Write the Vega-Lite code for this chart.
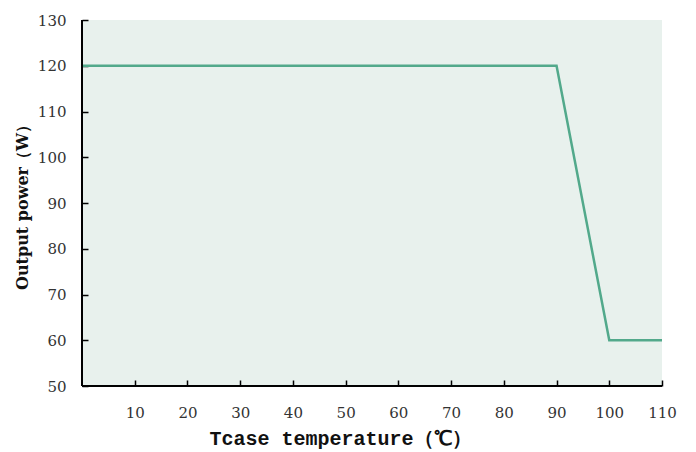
{
  "$schema": "https://vega.github.io/schema/vega-lite/v6.json",
  "width": 580,
  "height": 366,
  "autosize": "none",
  "padding": {"left": 82, "top": 20, "right": 34, "bottom": 66},
  "background": "white",
  "view": {"fill": "#e8f1ed", "stroke": null},
  "data": {"values": [
    {"t": 0, "p": 120},
    {"t": 90, "p": 120},
    {"t": 100, "p": 60},
    {"t": 110, "p": 60}
  ]},
  "layer": [
    {
      "mark": {"type": "line", "color": "#52a98b", "strokeWidth": 2.5},
      "encoding": {
        "x": {
          "field": "t", "type": "quantitative",
          "scale": {"domain": [0, 110], "nice": false},
          "axis": {
            "title": "Tcase temperature（℃）",
            "values": [10, 20, 30, 40, 50, 60, 70, 80, 90, 100, 110],
            "grid": false,
            "domain": false,
            "offset": -6,
            "labelFlush": false,
            "labelOverlap": false,
            "tickColor": "#000", "tickSize": 6, "tickWidth": 1.5,
            "labelFont": "DejaVu Serif", "labelFontSize": 15, "labelColor": "#333",
            "labelPadding": 19,
            "titleFont": "Liberation Mono", "titleFontSize": 20, "titleFontWeight": "bold", "titleColor": "#111",
            "titleX": 258, "titleY": 68, "titleAlign": "center", "titleBaseline": "bottom"
          }
        },
        "y": {
          "field": "p", "type": "quantitative",
          "scale": {"domain": [50, 130], "nice": false, "zero": false},
          "axis": {
            "title": "Output power（W）",
            "values": [50, 60, 70, 80, 90, 100, 110, 120, 130],
            "grid": false,
            "domain": false,
            "offset": -6,
            "labelFlush": false,
            "labelOverlap": false,
            "tickColor": "#000", "tickSize": 6, "tickWidth": 1.5,
            "labelFont": "DejaVu Serif", "labelFontSize": 15, "labelColor": "#333",
            "labelPadding": 16,
            "titleFont": "DejaVu Serif", "titleFontSize": 16, "titleFontWeight": "bold", "titleColor": "#111",
            "titleX": -66, "titleAlign": "center", "titleBaseline": "middle", "titleAngle": -90
          }
        }
      }
    },
    {
      "mark": {"type": "rule", "color": "#000", "strokeWidth": 1.5},
      "encoding": {"y": {"datum": 50}}
    },
    {
      "mark": {"type": "rule", "color": "#000", "strokeWidth": 1.5},
      "encoding": {"x": {"datum": 0}}
    }
  ]
}
